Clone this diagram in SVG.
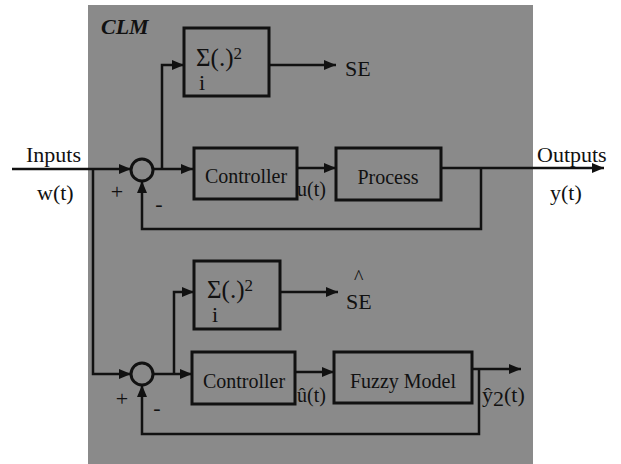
<svg xmlns="http://www.w3.org/2000/svg" width="621" height="464" viewBox="0 0 621 464">
<defs>
<marker id="ah" markerUnits="userSpaceOnUse" markerWidth="12" markerHeight="10" refX="12" refY="5" orient="auto">
<path d="M0,0 L12,5 L0,10 Z" fill="#111"/>
</marker>
<style>
.bg{fill:#8a8a8a}
.box{fill:none;stroke:#111;stroke-width:3}
.ln{fill:none;stroke:#111;stroke-width:2.5}
.ar{fill:none;stroke:#111;stroke-width:2.5;marker-end:url(#ah)}
.sj{fill:none;stroke:#111;stroke-width:3}
text{font-family:"Liberation Serif","Times New Roman",serif;fill:#111}
.t20{font-size:20px}
.t22{font-size:22px}
.sig{font-size:25px}
.clm{font-size:22px;font-weight:bold;font-style:italic}
.mid{text-anchor:middle}
</style>
</defs>
<rect class="bg" x="88" y="5" width="445" height="459"/>
<text class="clm" x="101" y="34">CLM</text>

<g id="connectors">
<polyline class="ar" points="12,169 131,169"/>
<polyline class="ar" points="153,169 193,169"/>
<polyline class="ar" points="162,169 162,65 184,65"/>
<polyline class="ar" points="269,65 336,65"/>
<polyline class="ar" points="297,168 336,168"/>
<polyline class="ar" points="441,168 604,168"/>
<polyline class="ar" points="481,168 481,229 142,229 142,181"/>
<polyline class="ar" points="93,169 93,374 131,374"/>
<polyline class="ar" points="153,374 192,374"/>
<polyline class="ar" points="174,374 174,292 194,292"/>
<polyline class="ar" points="280,292 338,292"/>
<polyline class="ar" points="295,372 334,372"/>
<polyline class="ar" points="472,369 521,369"/>
<polyline class="ar" points="479,369 479,434 142,434 142,385"/>
</g>

<g id="sum1">
<circle class="sj" cx="142" cy="170" r="11"/>
<text class="t22" x="117" y="199" text-anchor="middle">+</text>
<text class="t22" x="159" y="211" text-anchor="middle">-</text>
</g>
<g id="sum2">
<circle class="sj" cx="142" cy="374" r="11"/>
<text class="t22" x="122" y="406" text-anchor="middle">+</text>
<text class="t22" x="157" y="415" text-anchor="middle">-</text>
</g>

<g id="se1">
<rect class="box" x="184" y="28" width="85" height="68"/>
<text class="sig" x="196" y="66">Σ(.)<tspan font-size="17" dy="-7">2</tspan></text>
<text class="t22" x="199" y="90">i</text>
</g>
<g id="controller1">
<rect class="box" x="194" y="148" width="103" height="51"/>
<text class="t20 mid" x="246" y="183">Controller</text>
</g>
<g id="process">
<rect class="box" x="336" y="148" width="105" height="52"/>
<text class="t20 mid" x="388" y="184">Process</text>
</g>
<g id="se2">
<rect class="box" x="194" y="261" width="86" height="68"/>
<text class="sig" x="207" y="298">Σ(.)<tspan font-size="17" dy="-7">2</tspan></text>
<text class="t22" x="212" y="322">i</text>
</g>
<g id="controller2">
<rect class="box" x="192" y="352" width="103" height="52"/>
<text class="t20 mid" x="244" y="388">Controller</text>
</g>
<g id="fuzzy">
<rect class="box" x="334" y="352" width="138" height="51"/>
<text class="t20 mid" x="403" y="388">Fuzzy Model</text>
</g>

<g id="labels">
<text class="t22" x="26" y="162">Inputs</text>
<text class="t22" x="37" y="200">w(t)</text>
<text class="t22" x="537" y="162">Outputs</text>
<text class="t22" x="550" y="200">y(t)</text>
<text class="t22" x="345" y="76">SE</text>
<text class="t22" x="346" y="309">SE</text>
<text class="t20" x="354" y="284">^</text>
<text class="t20" x="297" y="196">u(t)</text>
<text class="t20" x="297" y="402">û(t)</text>
<text class="t22" x="482" y="402">ŷ<tspan dy="4">2</tspan><tspan dy="-4">(t)</tspan></text>
</g>
</svg>
